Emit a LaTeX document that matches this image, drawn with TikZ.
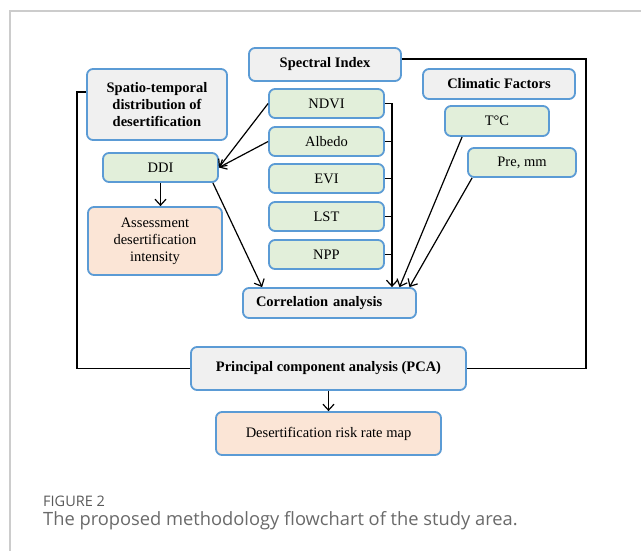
\documentclass[tikz,border=0pt]{standalone}
\usepackage{fontspec}
\setmainfont{Liberation Serif}
\newfontfamily\capfont{Open Sans}
\usetikzlibrary{arrows.meta,calc}
\definecolor{boxblue}{HTML}{5B9BD5}
\definecolor{boxgray}{HTML}{F0F0F0}
\definecolor{boxgreen}{HTML}{E2EFDA}
\definecolor{boxpeach}{HTML}{FBE5D6}
\definecolor{framegray}{HTML}{CCCCCC}
\definecolor{captext}{HTML}{6A6A6A}
\definecolor{caplabel}{HTML}{5A5A5A}
\tikzset{
  fbox/.style={draw=boxblue, line width=1.8pt, rounded corners=6pt, inner sep=2pt,
    font=\fontsize{14.5}{17}\selectfont, align=center},
  graybox/.style={fbox, fill=boxgray, font=\fontsize{14.5}{17}\selectfont\bfseries},
  greenbox/.style={fbox, fill=boxgreen},
  peachbox/.style={fbox, fill=boxpeach},
  conn/.style={line width=1.2pt, black},
  arr/.style={conn, -{Straight Barb[length=6pt,width=11pt,line width=1.2pt]}},
}
\begin{document}
\begin{tikzpicture}[x=1pt,y=-1pt]
\useasboundingbox (0,0) rectangle (641,551);
\fill[white] (0,0) rectangle (641,551);
\draw[framegray, line width=1.5pt] (10,551) -- (10,11) -- (641,11);

% nodes
\node[graybox, minimum width=152pt, minimum height=33pt] (spec) at (325,64.5) {Spectral Index};
\node[graybox, minimum width=140pt, minimum height=71pt] (spatio) at (157,104.5) {Spatio-temporal\\distribution of\\desertification};
\node[graybox, minimum width=152pt, minimum height=30pt] (clim) at (499,84) {Climatic Factors};
\node[greenbox, minimum width=115pt, minimum height=29pt] (ndvi) at (326.5,103.5) {NDVI};
\node[greenbox, minimum width=115pt, minimum height=29pt] (albedo) at (326.5,141.5) {Albedo};
\node[greenbox, minimum width=115pt, minimum height=29pt] (evi) at (326.5,178.5) {EVI};
\node[greenbox, minimum width=115pt, minimum height=29pt] (lst) at (326.5,216.5) {LST};
\node[greenbox, minimum width=115pt, minimum height=29pt] (npp) at (326.5,254.5) {NPP};
\node[greenbox, minimum width=115pt, minimum height=29pt] (ddi) at (160.5,167.5) {DDI};
\node[peachbox, minimum width=134pt, minimum height=68pt] (assess) at (155,241) {Assessment\\desertification\\intensity};
\node[greenbox, minimum width=104pt, minimum height=30pt] (tc) at (497,121) {T°C};
\node[greenbox, minimum width=108pt, minimum height=29pt] (pre) at (522,162.5) {Pre, mm};
\node[graybox, text width=147pt, inner xsep=13pt, align=left, minimum height=30pt] (corr) at (329.5,303) {Correlation analysis};
\node[graybox, minimum width=275pt, minimum height=43pt] (pca) at (328.5,368.5) {Principal component analysis (PCA)};
\node[peachbox, minimum width=225pt, minimum height=43pt] (map) at (328.5,433.5) {Desertification risk rate map};

% connectors
\draw[arr] (ndvi.west) -- (ddi.east);
\draw[arr] (albedo.west) -- (ddi.east);
\draw[arr] (ddi.south) -- (ddi.south |- assess.north);
\draw[arr] ($(ddi.south east)+(-6,0)$) -- ($(corr.north west)+(20,0)$);
\coordinate (bus) at (392,0);
\draw[arr] (ndvi.east) -- (bus |- ndvi.east) -- (bus |- corr.north);
\draw[conn] (albedo.east) -- (bus |- albedo.east);
\draw[conn] (evi.east) -- (bus |- evi.east);
\draw[conn] (lst.east) -- (bus |- lst.east);
\draw[conn] (npp.east) -- (bus |- npp.east);
\draw[arr] ($(tc.south west)+(18,0)$) -- ($(corr.north)+(70,0)$);
\draw[arr] ($(pre.south west)+(5,0)$) -- ($(corr.north)+(80,0)$);
\draw[arr] (pca.south) -- (map.north);
\coordinate (rline) at (586,0);
\coordinate (lline) at (77,0);
\draw[conn] ($(spec.east)+(0,-5.5)$) -- (rline |- {$(spec.east)+(0,-5.5)$}) -- (rline |- pca.east) -- (pca.east);
\draw[conn] ($(spatio.west)+(0,-12.5)$) -- (lline |- {$(spatio.west)+(0,-12.5)$}) -- (lline |- pca.west) -- (pca.west);

% caption
\node[anchor=base west, inner sep=0, text=caplabel, font=\capfont\fontsize{14.5}{17}\selectfont] (figlabel) at (43,506) {FIGURE 2};
\node[anchor=base west, inner sep=0, text=captext, font=\capfont\fontsize{18.3}{22}\selectfont] (figcap) at (43,525) {The proposed methodology flowchart of the study area.};
\end{tikzpicture}
\end{document}
